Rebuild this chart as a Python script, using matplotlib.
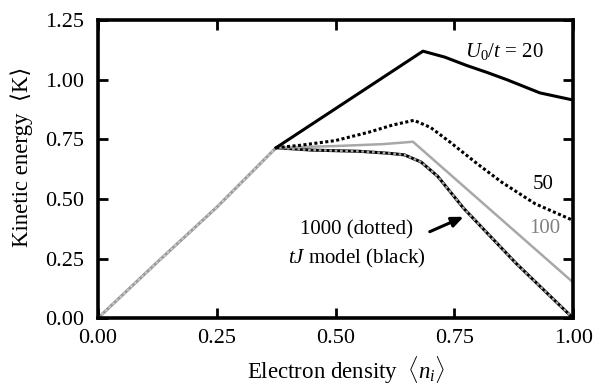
import matplotlib
matplotlib.use("Agg")
import matplotlib.pyplot as plt

# shared rising branch (all models coincide here)
rise_x = [0.0, 0.125, 0.25, 0.375]
rise_y = [0.0, 0.235, 0.465, 0.715]

# branches beyond the kink
u20_x = [0.375, 0.684, 0.73, 0.776, 0.82, 0.861, 0.93, 1.0]
u20_y = [0.715, 1.12, 1.095, 1.06, 1.03, 1.0, 0.945, 0.915]

u50_x = [0.375, 0.425, 0.50, 0.57, 0.62, 0.665, 0.70, 0.74, 0.80, 0.85, 0.92, 1.0]
u50_y = [0.715, 0.725, 0.745, 0.78, 0.81, 0.83, 0.80, 0.74, 0.645, 0.57, 0.48, 0.41]

u100_x = [0.375, 0.50, 0.60, 0.663, 1.0]
u100_y = [0.715, 0.722, 0.73, 0.74, 0.15]

tj_x = [0.375, 0.45, 0.55, 0.61, 0.645, 0.68, 0.715, 0.77, 0.88, 1.0]
tj_y = [0.715, 0.705, 0.70, 0.692, 0.685, 0.655, 0.595, 0.46, 0.23, 0.0]

x_ticks = [0.0, 0.25, 0.5, 0.75, 1.0]
y_ticks = [0.0, 0.25, 0.5, 0.75, 1.0, 1.25]

plt.rcParams['font.family'] = ['Liberation Serif', 'DejaVu Serif']
plt.rcParams['mathtext.fontset'] = 'custom'
plt.rcParams['mathtext.rm'] = 'Liberation Serif'
plt.rcParams['mathtext.it'] = 'Liberation Serif:italic'

fig = plt.figure(figsize=(5.97, 3.88), dpi=100)
ax = fig.add_axes([0.164, 0.180, 0.796, 0.768])

gray = '#a8a8a8'
ax.plot(rise_x, rise_y, color='#9a9a9a', lw=2.2)
ax.plot(rise_x, rise_y, color='#cfcfcf', lw=1.2, linestyle=(0, (1.5, 1.5)))
ax.plot(tj_x, tj_y, color='black', lw=2.2, solid_capstyle='round')
ax.plot(tj_x, tj_y, color=gray, lw=1.6, linestyle=(0, (1.2, 1.2)))
ax.plot(u100_x, u100_y, color=gray, lw=1.8)
ax.plot(u50_x, u50_y, color='black', lw=2.2, linestyle=(0, (1.0, 0.8)))
ax.plot(u20_x, u20_y, color='black', lw=2.2)

ax.set_xlim(0, 1)
ax.set_ylim(0, 1.25)
ax.set_xticks(x_ticks)
ax.set_yticks(y_ticks)
ax.set_xticklabels([f"{v:.2f}" for v in x_ticks])
ax.set_yticklabels([f"{v:.2f}" for v in y_ticks])
ax.tick_params(direction='in', length=7, width=2, labelsize=16,
               top=True, right=True)
ax.tick_params(axis='y', pad=10)
ax.tick_params(axis='x', pad=8)
for s in ax.spines.values():
    s.set_linewidth(2.6)

ax.set_xlabel(r"Electron density  $\langle n_i\rangle$", fontsize=16.5, va='center')
ax.set_ylabel("Kinetic energy  ⟨K⟩", fontsize=16.5)
ax.xaxis.set_label_coords(0.523, -0.175)
ax.yaxis.set_label_coords(-0.137, 0.54)

fs = 15
ax.text(0.855, 1.12, r"$U_0/t$ = 20", fontsize=fs, ha='center', va='center')
ax.text(0.937, 0.56, "50", fontsize=fs, ha='center', va='center')
ax.text(0.94, 0.375, "100", fontsize=fs, ha='center', va='center', color='#808080')
ax.text(0.545, 0.37, "1000 (dotted)", fontsize=fs, ha='center', va='center')
ax.text(0.545, 0.25, r"$tJ$ model (black)", fontsize=fs, ha='center', va='center')
ax.annotate("", xy=(0.775, 0.43), xytext=(0.693, 0.358),
            arrowprops=dict(arrowstyle='-|>,head_length=0.7,head_width=0.3',
                            color='black', lw=2.2))

fig.savefig("out.png", dpi=100)
